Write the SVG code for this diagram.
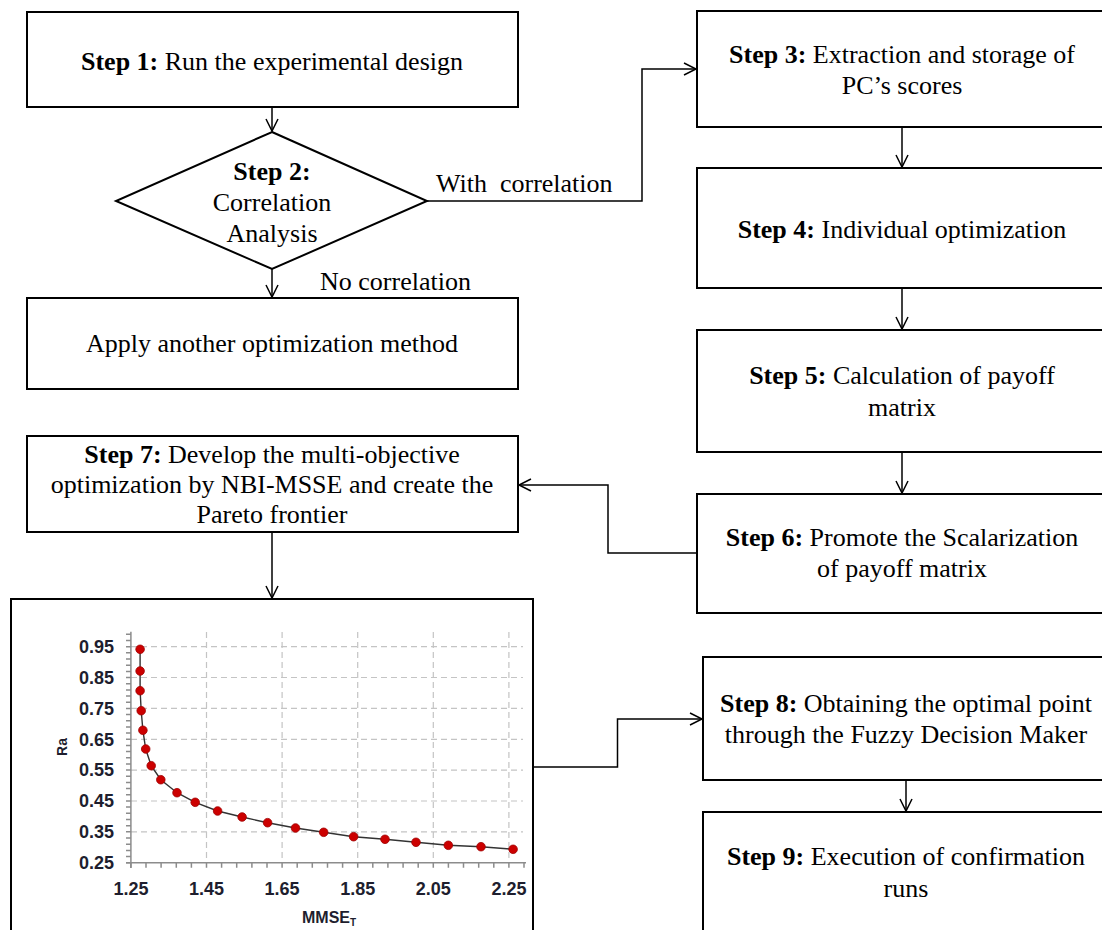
<svg xmlns="http://www.w3.org/2000/svg" width="1102" height="930" viewBox="0 0 1102 930">
<style>
.box{fill:#fff;stroke:#000;stroke-width:2}
.t{font-family:"Liberation Serif","Times New Roman",serif;font-size:26px;fill:#000;text-anchor:middle}
.b{font-weight:bold}
.conn{fill:none;stroke:#000;stroke-width:1.5}
.grid{fill:none;stroke:#c4c4c4;stroke-width:1.2;stroke-dasharray:6 4}
.axis{fill:none;stroke:#8c8c8c;stroke-width:1.5}
.tk{font-family:"Liberation Sans",Arial,sans-serif;font-size:18px;font-weight:bold;fill:#1e1e2e}
.pt{fill:#cc0000;stroke:#a00000;stroke-width:0.8}
</style>
<defs>
<marker id="arr" markerUnits="userSpaceOnUse" markerWidth="16" markerHeight="16" viewBox="-14 -8 16 16" refX="0" refY="0" orient="auto">
<path d="M-12,-6 L0,0 L-12,6" fill="none" stroke="#000" stroke-width="1.5"/>
</marker>
</defs>
<rect width="1102" height="930" fill="#fff"/>

<g id="connectors">
<path class="conn" d="M272,107 V131" marker-end="url(#arr)"/>
<path class="conn" d="M272,269 V297" marker-end="url(#arr)"/>
<path class="conn" d="M427,201 H642 V69 H696" marker-end="url(#arr)"/>
<path class="conn" d="M902,127 V167" marker-end="url(#arr)"/>
<path class="conn" d="M902,288 V329" marker-end="url(#arr)"/>
<path class="conn" d="M902,452 V493" marker-end="url(#arr)"/>
<path class="conn" d="M697,553 H608 V485 H519" marker-end="url(#arr)"/>
<path class="conn" d="M272,532 V598" marker-end="url(#arr)"/>
<path class="conn" d="M533,767 H617.5 V719 H702" marker-end="url(#arr)"/>
<path class="conn" d="M906,780 V811" marker-end="url(#arr)"/>
</g>

<g id="step1">
<rect class="box" x="27" y="12" width="491" height="95"/>
<text class="t" x="272" y="70"><tspan class="b">Step 1:</tspan> Run the experimental design</text>
</g>

<g id="step2">
<polygon class="box" points="272,132 427,201 272,269 116,201"/>
<text class="t b" x="272" y="180">Step 2:</text>
<text class="t" x="272" y="211">Correlation</text>
<text class="t" x="272" y="242">Analysis</text>
</g>

<g id="label-with">
<text class="t" x="436" y="192" style="text-anchor:start">With&#160; correlation</text>
</g>
<g id="label-no">
<text class="t" x="320" y="290" style="text-anchor:start">No correlation</text>
</g>

<g id="apply">
<rect class="box" x="27" y="298" width="491" height="91"/>
<text class="t" x="272" y="352">Apply another optimization method</text>
</g>

<g id="step3">
<rect class="box" x="697" y="11" width="420" height="116"/>
<text class="t" x="902" y="63"><tspan class="b">Step 3:</tspan> Extraction and storage of</text>
<text class="t" x="902" y="94">PC’s scores</text>
</g>

<g id="step4">
<rect class="box" x="697" y="168" width="420" height="120"/>
<text class="t" x="902" y="238"><tspan class="b">Step 4:</tspan> Individual optimization</text>
</g>

<g id="step5">
<rect class="box" x="697" y="330" width="420" height="122"/>
<text class="t" x="902" y="384"><tspan class="b">Step 5:</tspan> Calculation of payoff</text>
<text class="t" x="902" y="416">matrix</text>
</g>

<g id="step6">
<rect class="box" x="697" y="494" width="420" height="119"/>
<text class="t" x="902" y="546"><tspan class="b">Step 6:</tspan> Promote the Scalarization</text>
<text class="t" x="902" y="577">of payoff matrix</text>
</g>

<g id="step7">
<rect class="box" x="27" y="436" width="491" height="96"/>
<text class="t" x="272" y="463"><tspan class="b">Step 7:</tspan> Develop the multi-objective</text>
<text class="t" x="272" y="493">optimization by NBI-MSSE and create the</text>
<text class="t" x="272" y="523">Pareto frontier</text>
</g>

<g id="step8">
<rect class="box" x="703" y="657" width="420" height="123"/>
<text class="t" x="906" y="712"><tspan class="b">Step 8:</tspan> Obtaining the optimal point</text>
<text class="t" x="906" y="743">through the Fuzzy Decision Maker</text>
</g>

<g id="step9">
<rect class="box" x="703" y="812" width="420" height="140"/>
<text class="t" x="906" y="865"><tspan class="b">Step 9:</tspan> Execution of confirmation</text>
<text class="t" x="906" y="897">runs</text>
</g>

<g id="chart">
<rect class="box" x="11" y="599" width="522" height="350"/>
<path class="grid" d="M131,646.7 H523 M131,677.5 H523 M131,708.4 H523 M131,739.3 H523 M131,770.1 H523 M131,801 H523 M131,831.8 H523"/>
<path class="grid" d="M206.5,632 V862.7 M282.1,632 V862.7 M357.7,632 V862.7 M433.3,632 V862.7 M508.9,632 V862.7"/>
<path class="axis" d="M130.9,631.7 V868 M126,862.7 H526"/>
<path class="axis" stroke-width="1.2" d="M126,862.7h5M126,856.5h5M126,850.4h5M126,844.2h5M126,838h5M126,831.8h5M126,825.7h5M126,819.5h5M126,813.3h5M126,807.1h5M126,801h5M126,794.8h5M126,788.6h5M126,782.5h5M126,776.3h5M126,770.1h5M126,763.9h5M126,757.8h5M126,751.6h5M126,745.4h5M126,739.3h5M126,733.1h5M126,726.9h5M126,720.7h5M126,714.6h5M126,708.4h5M126,702.2h5M126,696h5M126,689.9h5M126,683.7h5M126,677.5h5M126,671.4h5M126,665.2h5M126,659h5M126,652.8h5M126,646.7h5M126,640.5h5M126,634.3h5"/>
<path class="axis" stroke-width="1.2" d="M130.9,862.7v5M146,862.7v5M161.1,862.7v5M176.3,862.7v5M191.4,862.7v5M206.5,862.7v5M221.6,862.7v5M236.7,862.7v5M251.9,862.7v5M267,862.7v5M282.1,862.7v5M297.2,862.7v5M312.3,862.7v5M327.5,862.7v5M342.6,862.7v5M357.7,862.7v5M372.8,862.7v5M387.9,862.7v5M403.1,862.7v5M418.2,862.7v5M433.3,862.7v5M448.4,862.7v5M463.5,862.7v5M478.7,862.7v5M493.8,862.7v5M508.9,862.7v5M524,862.7v5"/>
<g class="tk" text-anchor="end">
<text x="114" y="653">0.95</text>
<text x="114" y="683.8">0.85</text>
<text x="114" y="714.7">0.75</text>
<text x="114" y="745.6">0.65</text>
<text x="114" y="776.4">0.55</text>
<text x="114" y="807.3">0.45</text>
<text x="114" y="838.1">0.35</text>
<text x="114" y="869">0.25</text>
</g>
<g class="tk" text-anchor="middle">
<text x="130.9" y="895">1.25</text>
<text x="206.5" y="895">1.45</text>
<text x="282.1" y="895">1.65</text>
<text x="357.7" y="895">1.85</text>
<text x="433.3" y="895">2.05</text>
<text x="508.9" y="895">2.25</text>
</g>
<text class="tk" style="font-size:14px" text-anchor="middle" transform="translate(67,747) rotate(-90)">Ra</text>
<text class="tk" style="font-size:16px" x="302" y="923">MMSE<tspan font-size="10" dy="3">T</tspan></text>
<polyline fill="none" stroke="#333" stroke-width="1.4" points="140.1,649.3 140.1,671 140.1,690.7 141.2,710.7 142.9,730.3 145.7,749 151.2,765.7 160.8,779.7 177,792.7 195.2,802.3 217.6,811 242.1,817 267.6,822.7 295.5,828 323.7,832.3 353.6,836.7 385,839.3 416,842.3 448.3,845.3 481,846.7 513.1,849.3"/>
<g class="pt">
<circle cx="140.1" cy="649.3" r="4.3"/><circle cx="140.1" cy="671" r="4.3"/><circle cx="140.1" cy="690.7" r="4.3"/><circle cx="141.2" cy="710.7" r="4.3"/><circle cx="142.9" cy="730.3" r="4.3"/><circle cx="145.7" cy="749" r="4.3"/><circle cx="151.2" cy="765.7" r="4.3"/><circle cx="160.8" cy="779.7" r="4.3"/><circle cx="177" cy="792.7" r="4.3"/><circle cx="195.2" cy="802.3" r="4.3"/><circle cx="217.6" cy="811" r="4.3"/><circle cx="242.1" cy="817" r="4.3"/><circle cx="267.6" cy="822.7" r="4.3"/><circle cx="295.5" cy="828" r="4.3"/><circle cx="323.7" cy="832.3" r="4.3"/><circle cx="353.6" cy="836.7" r="4.3"/><circle cx="385" cy="839.3" r="4.3"/><circle cx="416" cy="842.3" r="4.3"/><circle cx="448.3" cy="845.3" r="4.3"/><circle cx="481" cy="846.7" r="4.3"/><circle cx="513.1" cy="849.3" r="4.3"/>
</g>
</g>
</svg>
